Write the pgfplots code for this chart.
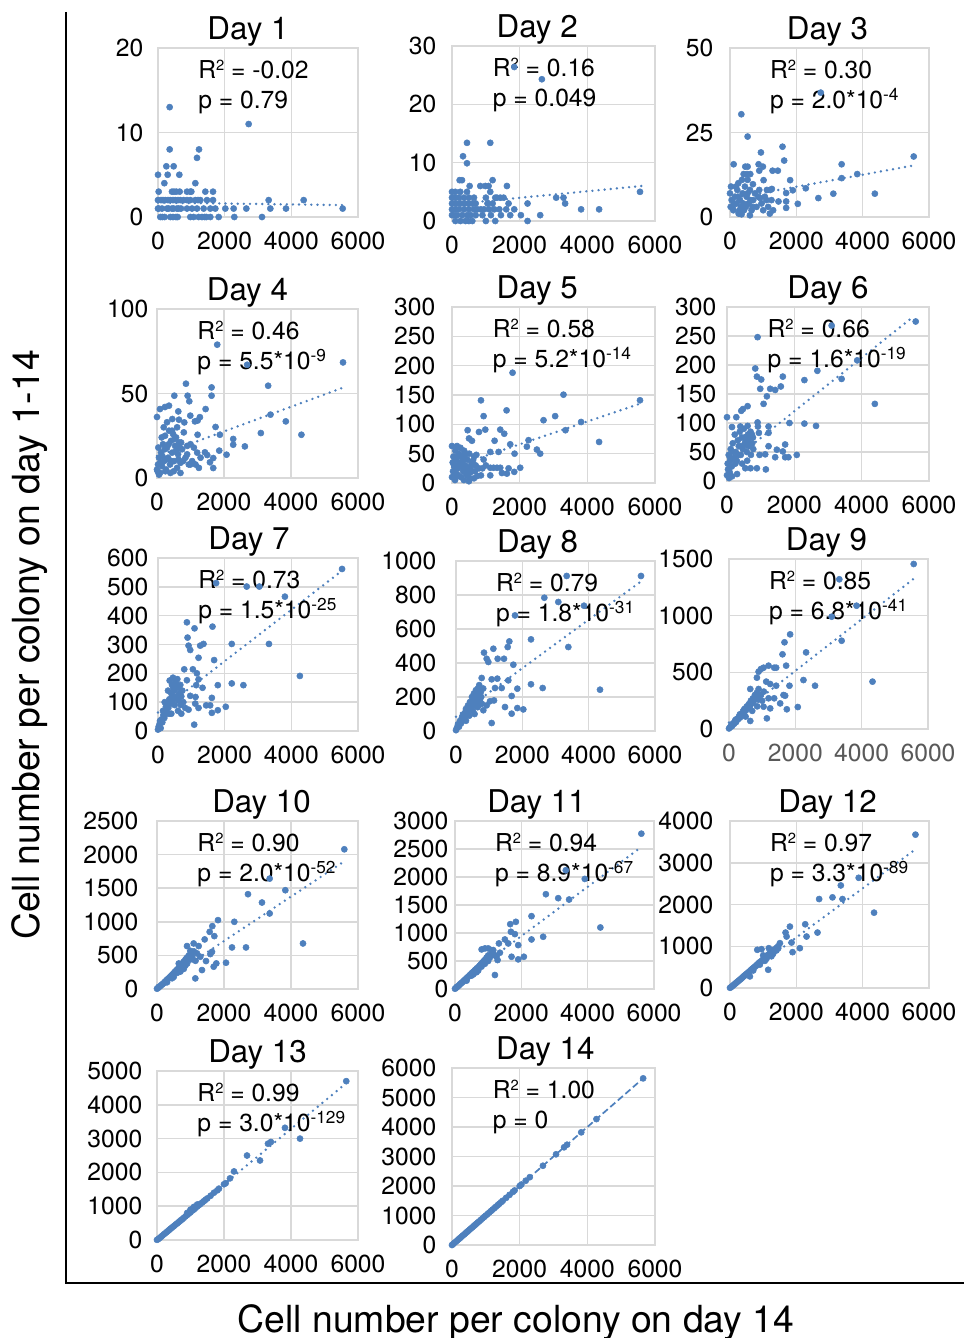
\documentclass[border=0pt]{standalone}
\usepackage{fontspec}
\setmainfont{TeX Gyre Heros}
\usepackage{pgfplots}
\pgfplotsset{compat=1.18}

\definecolor{dotblue}{HTML}{4E80BD}
\definecolor{gridgray}{HTML}{D9D9D9}
\definecolor{ticgray}{HTML}{595959}

\newcommand{\statfont}{\fontsize{18.5}{19}\selectfont}
\newcommand{\sq}{\raisebox{0.62ex}{\fontsize{11}{11}\selectfont 2}}
\newcommand{\stats}[2]{%
  \node[anchor=base west, font=\statfont, inner sep=0pt] at ([yshift=-23pt]rel axis cs:0.2,1) {R\sq\ = #1};
  \node[anchor=base west, font=\statfont, inner sep=0pt] at ([yshift=-45.5pt]rel axis cs:0.2,1) {p = #2};}

\pgfplotsset{
  panel/.style={
    scale only axis,
    anchor=south west,
    xmin=0, xmax=6000, ymin=0,
    xtick={0,2000,4000,6000},
    axis line style={gridgray, line width=1.1pt},
    grid=major,
    major grid style={gridgray, line width=1.1pt},
    major tick length=0pt,
    tick label style={font=\fontsize{18.5}{18.5}\selectfont},
    xticklabel style={yshift=-7.5pt},
    /pgf/number format/assume math mode=true,
    /pgf/number format/1000 sep={},
    scaled ticks=false,
    every axis title shift=0pt,
    title style={font=\fontsize{23.5}{24}\selectfont, inner sep=1pt, anchor=south},
    clip=false,
  },
  pts/.style={only marks, mark=*, mark size=2.3pt, color=dotblue, mark options={fill=dotblue, draw=none}},
  fit/.style={no marks, dotblue, line width=2pt, line cap=round, dash pattern=on 0pt off 4.6pt},
}

\begin{document}
\begin{tikzpicture}
\useasboundingbox (0,0) rectangle (723pt,-1003.5pt);

% frame and outer labels
\draw[line width=1.5pt] (49.5pt,-9pt) -- (49.5pt,-962.25pt) -- (723pt,-962.25pt);
\node[rotate=90, font=\fontsize{28}{28}\selectfont] at (22pt,-483.75pt) {Cell number per colony on day 1-14};
\node[anchor=base, font=\fontsize{28}{28}\selectfont] at (387pt,-999pt) {Cell number per colony on day 14};

% Day 1
\begin{axis}[panel, at={(118.5pt,-162.75pt)}, width=150pt, height=126.75pt,
  ymax=20, ytick={0,10,20}, title={Day 1}, title style={at={(0.45,1)}},
  yticklabel style={xshift=-7.5pt}]
\addplot[pts] coordinates {
 (70,0) (370,0) (590,0) (970,0) (1070,0) (1220,0) (1320,0) (1570,0) (1820,0) (2290,0) (3120,0)
 (130,0) (200,0) (450,0) (540,0) (1400,0) (1450,0)
 (0,1) (20,1) (120,1) (270,1) (420,1) (570,1) (870,1) (1020,1) (1170,1) (1370,1) (1570,1) (1720,1)
 (2020,1) (2270,1) (2650,1) (3370,1) (3840,1) (5540,1) (320,1) (470,1) (620,1) (690,1)
 (0,2) (90,2) (220,2) (370,2) (520,2) (670,2) (870,2) (970,2) (1120,2) (1270,2) (1470,2) (1650,2)
 (3320,2) (4370,2) (150,2) (300,2) (450,2) (600,2) (770,2) (1200,2)
 (20,3) (420,3) (550,3) (650,3) (870,3) (970,3) (1420,3) (1650,3) (480,3) (1000,3)
 (190,4) (1120,4) (0,5) (290,5) (640,5) (250,6) (470,6) (1170,7) (350,8) (1230,8)
 (2720,11) (350,13)
};
\addplot[fit] coordinates {(0,1.7) (5700,1.4)};
\stats{-0.02}{0.79}
\end{axis}

% Day 2
\begin{axis}[panel, at={(339pt,-165.75pt)}, width=152.25pt, height=131.25pt,
  ymax=30, ytick={0,10,20,30}, title={Day 2}, title style={at={(0.42,1)}},
  yticklabel style={xshift=-8.25pt}]
\addplot[pts] coordinates {
 (2656,24.3) (1840,26.4) (443,13.4) (1131,13.4) (325,11.1) (443,9.9) (226,7) (295,7) (1200,7)
 (521,6) (836,6) (984,6) (1082,6) (1623,6) (1131,5) (0,5) (98,5) (246,5) (443,5)
 (1279,4) (1328,4) (1426,4) (1525,4) (2233,3) (3079,4) (3295,4) (3344,3) (3816,2) (4348,2) (5557,5)
 (1672,3) (1603,2) (1840,2) (1721,1) (2036,1) (1446,1) (1279,0) (2233,0) (2607,1)
 (100,0) (250,0) (400,0) (500,0) (600,0) (1000,0)
 (0,1) (50,1) (150,1) (300,1) (450,1) (550,1) (700,1) (900,1) (1150,1)
 (0,2) (100,2) (200,2) (350,2) (500,2) (650,2) (750,2) (850,2) (950,2) (1100,2) (1250,2) (1400,2)
 (0,3) (120,3) (250,3) (380,3) (480,3) (600,3) (700,3) (1050,3) (1200,3)
 (0,4) (80,4) (200,4) (350,4) (500,4) (650,4) (1000,4)
};
\addplot[fit] coordinates {(0,2.85) (5600,6.0)};
\stats{0.16}{0.049}
\end{axis}

% Day 3
\begin{axis}[panel, at={(547.5pt,-162.75pt)}, width=149.25pt, height=126.75pt,
  ymax=50, ytick={0,25,50}, title={Day 3}, title style={at={(0.49,1)}},
  yticklabel style={xshift=-9pt}]
\addplot[pts] coordinates {
 (341,30.4) (531,23.8) (1583,20.8) (932,19.1) (1633,16.7) (110,15.6) (461,14.9) (531,14.9) (862,15.6)
 (992,14.9) (1282,13.7) (1442,13.7) (411,12.7) (511,12.7) (611,12.7) (882,13.7) (361,11) (531,11)
 (691,9.7) (1012,10.9) (1813,10.9) (3366,15.6) (3366,11.5) (3836,12.7) (5539,17.9) (2735,36.8)
 (2284,8.5) (2044,3.9) (2664,5.6) (3115,6.9) (4367,6.9) (1893,7.9) (1693,7.1) (1693,4.6) (1693,2.7)
 (1462,4.6) (1112,8) (1212,8) (1262,8.3) (882,8) (912,5.6)
 (0,7) (50,5) (80,3) (100,2) (150,6) (200,4) (220,8) (260,1) (300,5) (330,3) (380,7) (420,2)
 (450,9) (500,6) (560,4) (600,8) (650,2) (700,5) (750,7) (800,3) (950,4) (1050,6) (1150,3)
 (1250,5) (1300,2) (30,9) (180,9) (250,10) (350,0.8) (600,0.5) (1200,1)
 (20,3) (120,4) (240,6) (280,2) (400,4) (480,3) (530,7) (620,5) (680,3) (850,6) (1000,2) (1100,5)
};
\addplot[fit] coordinates {(0,5.4) (5570,15.3)};
\stats{0.30}{2.0*10\textsuperscript{-4}}
\end{axis}

% Day 4
\begin{axis}[panel, at={(117.75pt,-358.5pt)}, width=150.75pt, height=126.75pt,
  ymax=100, ytick={0,50,100}, title={Day 4}, title style={at={(0.45,1)}},
  yticklabel style={xshift=-3pt}]
\addplot[pts] coordinates {
 (1798,78.9) (2692,67) (5553,68.4) (3318,54.6) (864,55.8) (517,48.7) (914,48.7) (1629,53.6) (1629,48.7)
 (964,45.4) (89,40.8) (238,42) (358,42.8) (0,36.1) (636,39.4) (1451,40.8) (994,36.9) (457,34.9)
 (656,34.5) (1281,36) (1212,34) (1132,33.5) (815,32.9) (3388,37.5) (3845,33.5) (3100,26.6) (4311,25.6)
 (1748,30.2) (1877,25.6) (2275,23.1) (2275,19.7) (2623,18.7) (1212,25.6) (1858,16.2) (2076,13.8)
 (1431,15.2) (1500,13.6) (1679,11.8) (1580,9.3) (1679,5.9)
 (1000,20) (1100,18) (1200,15) (1300,12) (1050,10) (1150,8) (1250,6) (900,14) (1000,8)
 (0,5) (30,8) (60,12) (90,3) (120,15) (150,7) (180,20) (210,10) (240,25) (270,5) (300,18) (330,12)
 (360,28) (390,8) (420,22) (450,15) (480,26) (510,10) (540,19) (570,24) (600,6) (630,14) (660,21)
 (700,9) (750,17) (800,27) (850,12) (900,19) (950,8) (60,2) (200,30) (400,3) (500,4) (700,3) (300,33)
 (20,4) (100,9) (160,13) (230,17) (280,11) (350,20) (430,10) (520,23) (580,16) (640,11) (720,21)
 (40,18) (140,24) (250,4) (450,28) (600,30) (680,18) (780,10)
};
\addplot[fit] coordinates {(0,13) (5600,53.8)};
\stats{0.46}{5.5*10\textsuperscript{-9}}
\end{axis}

% Day 5
\begin{axis}[panel, at={(339pt,-362.25pt)}, width=152.25pt, height=132pt,
  ymax=300, ytick={0,50,...,300}, title={Day 5}, title style={at={(0.42,1)}},
  yticklabel style={xshift=-9pt}]
\addplot[pts] coordinates {
 (1790,188) (3295,150.6) (856,140.9) (5557,141) (1613,123.8) (934,114) (3049,114) (2705,107) (3816,104)
 (3354,90) (462,90) (984,91) (797,87) (1426,91) (1544,84) (1259,72) (4348,70) (2262,73) (1721,66)
 (0,63) (148,63) (502,76) (590,72) (2508,57) (2607,50) (1849,50) (2213,62) (1131,53) (1377,53)
 (934,40) (2016,26) (1840,19) (1623,16) (1475,17) (1672,25) (1131,26) (1230,26) (1330,26) (1426,26)
 (856,13) (1131,13)
 (0,10) (30,20) (60,30) (90,5) (120,40) (150,15) (180,25) (210,50) (240,35) (270,10) (300,45)
 (330,20) (360,55) (390,30) (420,15) (450,40) (480,25) (510,50) (540,8) (570,35) (600,20) (650,45)
 (700,30) (750,12) (800,25) (40,45) (100,55) (250,60) (350,5) (500,3) (650,8) (900,25) (1000,30)
 (20,35) (80,22) (140,30) (200,12) (280,28) (320,38) (400,22) (460,12) (550,28) (620,38) (720,48)
 (60,12) (170,45) (380,48) (530,18) (680,20)
};
\addplot[fit] coordinates {(0,27) (5600,136)};
\stats{0.58}{5.2*10\textsuperscript{-14}}
\end{axis}

% Day 6
\begin{axis}[panel, at={(545.25pt,-360.75pt)}, width=151.5pt, height=130.5pt,
  ymax=300, ytick={0,50,...,300}, title={Day 6}, title style={at={(0.5,1)}},
  yticklabel style={xshift=-4.5pt}]
\addplot[pts] coordinates {
 (3108,268) (5605,275) (908,248) (3868,208) (839,194) (2684,190) (3404,176) (888,180) (1016,175)
 (2299,174) (1658,180) (987,159) (1283,159) (1431,157) (1599,163) (1184,146) (1086,133) (4391,133)
 (612,129) (474,124) (424,121) (0,110) (276,110) (908,101) (918,94) (1855,100) (2299,99) (2645,95)
 (1234,94) (148,93) (395,94) (612,95) (947,83) (1234,83) (740,80) (1234,60) (1727,63) (1480,54)
 (1658,51) (2072,45) (1727,41) (1825,41) (1431,41) (967,45) (1135,46) (1154,20) (543,22) (700,22) (888,22)
 (0,10) (20,30) (50,45) (80,15) (110,55) (140,25) (170,65) (200,40) (230,80) (260,50) (290,35)
 (320,70) (350,60) (380,85) (410,45) (440,75) (470,55) (500,90) (530,65) (560,70) (590,50) (620,80)
 (650,60) (680,75) (710,45) (750,65) (780,55) (60,5) (150,8) (300,12) (100,35) (450,30) (600,35)
 (30,20) (90,40) (180,50) (250,30) (340,45) (420,60) (520,75) (580,62) (640,68) (700,85) (770,75)
};
\addplot[fit] coordinates {(0,28) (5550,284)};
\stats{0.66}{1.6*10\textsuperscript{-19}}
\end{axis}

% Day 7
\begin{axis}[panel, at={(118.5pt,-548.25pt)}, width=150pt, height=129.75pt,
  ymax=600, ytick={0,100,...,600}, title={Day 7}, title style={at={(0.455,1)}},
  yticklabel style={xshift=-3.75pt}]
\addplot[pts] coordinates {
 (5522,562) (1744,513) (2661,501) (3040,501) (3807,466) (867,377) (1635,362) (1096,356) (887,324)
 (1365,302) (1266,296) (2213,302) (3329,302) (917,296) (967,281) (1216,254) (1684,246) (787,214)
 (1046,214) (1166,200) (4256,191) (867,176) (1216,179) (1336,150) (1146,159) (1794,159) (2213,165)
 (2562,159) (967,122) (1126,118) (1615,115) (1445,89) (1565,89) (2033,84) (1794,72) (1615,63)
 (1116,95) (1216,80) (1086,22) (817,80) (917,74)
 (0,5) (20,15) (50,25) (80,10) (100,40) (130,30) (160,55) (190,45) (220,70) (250,60) (280,90)
 (310,80) (340,110) (370,100) (400,130) (430,120) (460,150) (490,140) (520,170) (550,160) (580,180)
 (610,150) (640,130) (670,160) (700,120) (730,140) (760,100) (300,140) (200,100) (400,60) (500,90)
 (600,70) (700,60) (350,175) (450,185)
 (60,35) (150,70) (240,85) (330,60) (420,95) (480,110) (560,120) (620,105) (680,90) (420,160)
};
\addplot[fit] coordinates {(0,64) (5500,554)};
\stats{0.73}{1.5*10\textsuperscript{-25}}
\end{axis}

% Day 8
\begin{axis}[panel, at={(342pt,-548.25pt)}, width=149.25pt, height=127.5pt,
  ymax=1000, ytick={0,200,...,1000}, title={Day 8}, title style={at={(0.41,1)}},
  yticklabel style={xshift=-11.25pt}]
\addplot[pts] coordinates {
 (3337,912) (5578,912) (2663,784) (3085,759) (3859,737) (1779,680) (2261,539) (1608,527) (3387,494)
 (1558,494) (844,461) (1126,484) (1256,425) (1447,425) (925,425) (975,406) (1729,390) (774,312)
 (1075,304) (1246,308) (1578,298) (1377,253) (1176,253) (1849,249) (2261,275) (2613,253) (4342,243)
 (1678,206) (1025,175) (1146,180) (1477,141) (1849,135) (2030,127) (1678,102) (1075,47) (925,151) (824,122)
 (0,5) (30,20) (60,40) (90,25) (120,60) (150,45) (180,80) (210,65) (240,100) (270,85) (300,130)
 (330,110) (360,150) (390,135) (420,170) (450,155) (480,200) (510,180) (540,220) (570,190) (600,240)
 (630,210) (660,250) (690,200) (720,180) (750,230) (780,160) (500,120) (400,90) (650,140) (300,60)
 (560,100) (700,270)
 (100,35) (200,90) (280,110) (350,100) (430,130) (520,150) (600,170) (680,150) (760,200) (820,250)
};
\addplot[fit] coordinates {(0,84) (5550,876)};
\stats{0.79}{1.8*10\textsuperscript{-31}}
\end{axis}

% Day 9
\begin{axis}[panel, at={(546.75pt,-546.75pt)}, width=149.25pt, height=127.5pt,
  ymax=1500, ytick={0,500,1000,1500}, title={Day 9}, title style={at={(0.49,1)}},
  yticklabel style={xshift=-8.25pt}, xticklabel style={ticgray}]
\addplot[pts] coordinates {
 (5569,1456) (3326,1321) (3846,1088) (3095,991) (1843,835) (1673,765) (3396,779) (2324,676) (1613,659)
 (1192,559) (1362,541) (1422,541) (1723,559) (892,506) (962,529) (1042,541) (841,453) (2244,432)
 (4327,418) (1122,418) (1242,397) (1422,382) (2594,382) (1823,382) (641,353) (892,353) (1643,300)
 (1693,294) (1362,271) (1192,271) (1543,226) (1743,174) (2074,194) (1142,94) (641,71) (1042,197) (1242,182)
 (0,5) (30,15) (60,30) (90,25) (120,50) (150,45) (180,70) (210,60) (240,90) (270,85) (300,110)
 (330,100) (360,130) (390,120) (420,155) (450,140) (480,180) (510,165) (540,200) (570,185) (600,220)
 (630,200) (660,250) (690,230) (720,270) (750,250) (780,300) (810,280) (840,320) (500,110) (700,160)
 (850,200) (950,300) (1000,250)
 (200,80) (330,130) (450,170) (600,190) (720,230) (880,260) (1050,330)
};
\addplot[fit] coordinates {(0,58) (5650,1344)};
\stats{0.85}{6.8*10\textsuperscript{-41}}
\end{axis}

% Day 10
\begin{axis}[panel, at={(117.75pt,-741.75pt)}, width=150.75pt, height=126pt,
  ymax=2500, ytick={0,500,...,2500}, title={Day 10}, title style={at={(0.52,1)}},
  yticklabel style={xshift=-10.5pt}]
\addplot[pts] coordinates {
 (5592,2079) (3363,1643) (3831,1470) (2716,1411) (3134,1287) (3363,1124) (1821,1025) (2308,1000)
 (1652,936) (1572,851) (1711,787) (4358,678) (1423,738) (2239,619) (2657,619) (1094,678) (1244,639)
 (896,639) (995,569) (1642,554) (1592,520) (1463,416) (1771,381) (2060,391) (1692,332) (1343,282)
 (1144,158) (1194,530) (1293,480) (796,406)
 (0,5) (30,15) (60,30) (90,40) (120,55) (150,65) (180,80) (210,90) (240,110) (270,120) (300,140)
 (330,150) (360,165) (390,180) (420,195) (450,210) (480,225) (510,240) (540,260) (570,270) (600,290)
 (630,300) (660,320) (690,330) (720,350) (750,370) (780,390) (810,400) (840,430) (870,450) (900,470)
 (950,500) (1000,520) (1050,480) (1100,560) (500,180) (700,260) (900,380) (1000,440) (800,300)
 (300,100) (450,160) (600,240) (650,380) (750,300) (850,350) (1150,420)
};
\addplot[fit] coordinates {(0,54) (5640,1916)};
\stats{0.90}{2.0*10\textsuperscript{-52}}
\end{axis}

% Day 11
\begin{axis}[panel, at={(341.25pt,-741.75pt)}, width=149.25pt, height=126pt,
  ymax=3000, ytick={0,500,...,3000}, title={Day 11}, title style={at={(0.41,1)}},
  yticklabel style={xshift=-1.5pt}]
\addplot[pts] coordinates {
 (5619,2774) (3341,2121) (3913,1966) (2740,1693) (3112,1622) (3440,1598) (2307,1301) (1665,1158)
 (1835,1200) (1685,1022) (1805,980) (4383,1099) (1504,885) (1906,784) (1605,814) (2307,885) (2658,933)
 (1324,814) (1003,725) (1153,695) (1705,576) (1906,529) (2076,576) (1354,648) (1284,517) (1103,695)
 (903,725) (802,707) (1203,250)
 (0,5) (30,20) (60,35) (90,50) (120,65) (150,85) (180,100) (210,115) (240,130) (270,150) (300,165)
 (330,180) (360,200) (390,215) (420,230) (450,250) (480,265) (510,285) (540,300) (570,315) (600,335)
 (630,350) (660,370) (690,380) (720,400) (750,420) (780,440) (810,460) (840,480) (870,500) (900,520)
 (950,560) (1000,600) (1050,560) (1100,620) (1150,650) (1200,600) (700,330) (500,240) (900,450)
 (350,150) (550,260) (650,300) (800,400) (1000,500) (1250,580)
};
\addplot[fit] coordinates {(0,65) (5620,2537)};
\stats{0.94}{8.9*10\textsuperscript{-67}}
\end{axis}

% Day 12
\begin{axis}[panel, at={(547.5pt,-741pt)}, width=149.25pt, height=125.25pt,
  ymax=4000, ytick={0,1000,...,4000}, title={Day 12}, title style={at={(0.49,1)}},
  yticklabel style={xshift=-9pt}]
\addplot[pts] coordinates {
 (5592,3674) (3880,2640) (3341,2457) (2688,2131) (3090,2171) (3391,2131) (4343,1805) (2268,1527)
 (1806,1471) (1675,1328) (2638,1328) (2308,1233) (1706,1233) (1505,1074) (1856,1089) (2106,954)
 (1886,859) (1455,954) (1304,915) (1170,954) (950,930) (822,915) (1151,437) (600,278)
 (0,5) (30,20) (60,40) (90,60) (120,80) (150,100) (180,120) (210,140) (240,160) (270,180) (300,200)
 (330,220) (360,240) (390,265) (420,285) (450,305) (480,325) (510,345) (540,365) (570,385) (600,405)
 (630,430) (660,450) (690,470) (720,490) (750,510) (780,530) (810,555) (840,575) (870,600) (900,620)
 (950,650) (1000,690) (1050,720) (1100,760) (1150,800) (1200,830) (1250,860) (1300,890) (1350,920)
 (1400,960) (1450,1000) (1000,780) (1100,700) (1200,790) (1300,820) (1400,900)
 (700,420) (900,560) (1050,650) (1250,760)
};
\addplot[fit] coordinates {(0,35) (5620,3340)};
\stats{0.97}{3.3*10\textsuperscript{-89}}
\end{axis}

% Day 13
\begin{axis}[panel, at={(117.75pt,-930pt)}, width=150.75pt, height=126.75pt,
  ymax=5000, ytick={0,1000,...,5000}, title={Day 13}, title style={at={(0.5,1)}},
  yticklabel style={xshift=-7.5pt}]
\addplot[pts] coordinates {
 (5650,4700) (3820,3320) (3313,2850) (3400,2900) (4269,3000) (3075,2353) (2687,2500) (2299,2029) (2179,1824)
 (0,5) (40,30) (80,60) (120,95) (160,130) (200,165) (240,195) (280,230) (320,260) (360,295) (400,330)
 (440,360) (480,395) (520,425) (560,460) (600,490) (640,525) (680,555) (720,590) (760,620) (800,655)
 (850,700) (900,740) (950,780) (1000,820) (1050,870) (1100,900) (1150,950) (1200,990) (1250,1030)
 (1300,1070) (1350,1110) (1400,1150) (1450,1190) (1500,1230) (1600,1310) (1700,1400) (1800,1470)
 (1850,1520) (2000,1650) (2050,1680) (1000,900) (1100,980) (900,800) (1200,1050)
};
\addplot[fit] coordinates {(0,10) (5600,4600)};
\stats{0.99}{3.0*10\textsuperscript{-129}}
\end{axis}

% Day 14
\begin{axis}[panel, at={(339pt,-933.75pt)}, width=152.25pt, height=132.75pt,
  ymax=6000, ytick={0,1000,...,6000}, title={Day 14}, title style={at={(0.46,1)}},
  yticklabel style={xshift=-8.25pt}]
\addplot[pts] coordinates {
 (0,0) (40,40) (80,80) (120,120) (160,160) (200,200) (240,240) (280,280) (320,320) (360,360)
 (400,400) (440,440) (480,480) (520,520) (560,560) (600,600) (640,640) (680,680) (720,720) (760,760)
 (800,800) (850,850) (900,900) (950,950) (1000,1000) (1050,1050) (1100,1100) (1150,1150) (1200,1200)
 (1250,1250) (1300,1300) (1350,1350) (1400,1400) (1450,1450) (1500,1500) (1600,1600) (1700,1700)
 (1800,1800) (1850,1850) (2000,2000) (2050,2050) (2179,2179) (2299,2299) (2687,2687) (3075,3075)
 (3313,3313) (3400,3400) (3820,3820) (4269,4269) (5650,5650)
};
\addplot[no marks, dotblue, line width=1.3pt, dash pattern=on 5pt off 2.5pt] coordinates {(0,0) (5650,5650)};
\stats{1.00}{0}
\end{axis}

\end{tikzpicture}
\end{document}
